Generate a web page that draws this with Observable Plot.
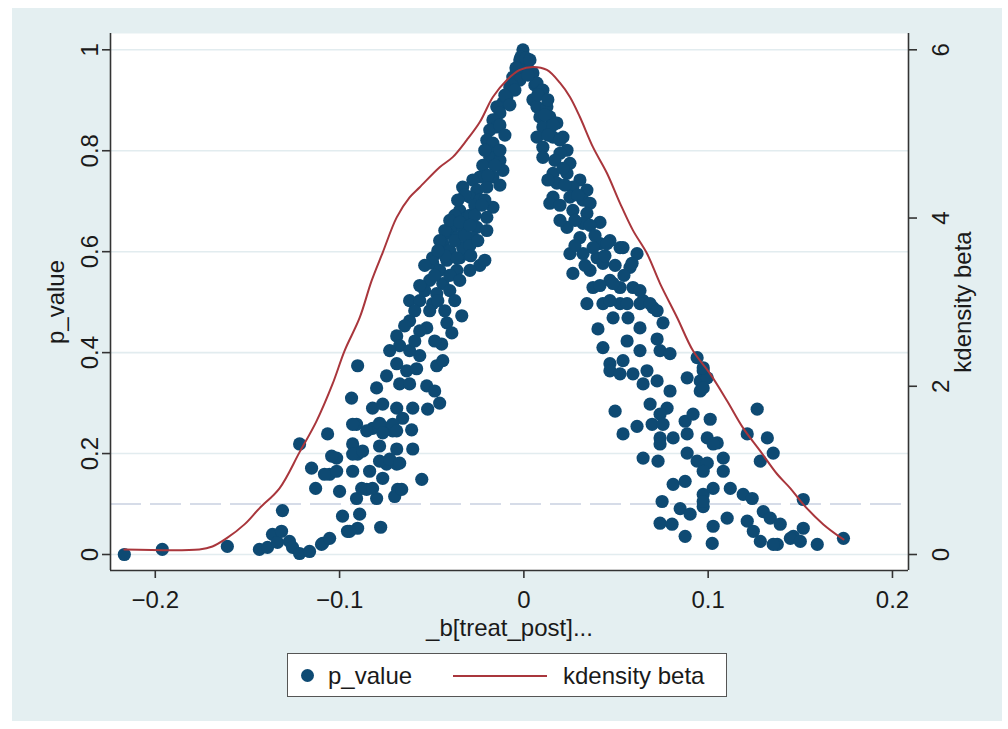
<!DOCTYPE html>
<html>
<head>
<meta charset="utf-8">
<script src="https://cdn.jsdelivr.net/npm/d3@7"></script>
<script src="https://cdn.jsdelivr.net/npm/@observablehq/plot@0.6"></script>
<style>
  body { margin:0; background:#ffffff; width:1008px; height:729px; position:relative; overflow:hidden;
         font-family:"Liberation Sans", Arial, sans-serif; color:#1a1a1a; }
  #bg { position:absolute; left:12px; top:8px; width:990px; height:713px; background:#E4EFF1; }
  #chart { position:absolute; left:0; top:0; }
  #legend { position:absolute; left:287px; top:653px; width:438px; height:42px; border:1px solid #555; background:#fff; }
  #legend .t { position:absolute; font-size:24px; line-height:24px; top:10px; white-space:nowrap; }
  #legend .dot { position:absolute; left:13px; top:15px; width:13px; height:13px; border-radius:50%; background:#0E4A73; }
  #legend .ln { position:absolute; left:165px; top:21px; width:94px; height:2px; background:#A9363C; }
</style>
</head>
<body>
<div id="bg"></div>
<div id="chart"></div>
<div id="legend">
  <div class="dot"></div><div class="t" style="left:40px">p_value</div>
  <div class="ln"></div><div class="t" style="left:275px">kdensity beta</div>
</div>
<script>
// ---- axis ticks ----
const xTicks = [-0.2, -0.1, 0, 0.1, 0.2];
const pTicks = [0, 0.2, 0.4, 0.6, 0.8, 1];
const densityTicks = [0, 2, 4, 6];
const densityAxisMax = 6;          // right axis top aligns with p_value = 1
const xDomain = [-0.2243, 0.2087];
const yDomain = [-0.0317, 1.0323];
const threshold = [0.1];

// ---- scatter: [beta, p_value] ----
const leftTail = [
[-0.2168,0.000],[-0.1962,0.010],[-0.1609,0.016],[-0.1435,0.010],[-0.1391,0.014],[-0.1364,0.040],
[-0.1337,0.024],[-0.1315,0.046],[-0.1310,0.087],[-0.1272,0.026],[-0.1255,0.014],[-0.1217,0.002],
[-0.1163,0.006],[-0.1092,0.022],[-0.1098,0.020],[-0.1054,0.032]
];
const leftArm = [
[-0.1217,0.219],[-0.1065,0.239],[-0.1152,0.171],[-0.1130,0.131],[-0.0984,0.076],[-0.0891,0.080],
[-0.0957,0.046],[-0.0902,0.052],[-0.0777,0.054],[-0.1016,0.191],[-0.1054,0.159],[-0.0929,0.165],
[-0.0837,0.165],[-0.0902,0.199],[-0.0783,0.215],[-0.0690,0.209],[-0.0603,0.209],[-0.0609,0.247],
[-0.0554,0.149],[-0.0685,0.129],[-0.0701,0.115],[-0.0799,0.111],[-0.0908,0.111],[-0.0853,0.129],
[-0.1000,0.125],[-0.0766,0.151],[-0.0745,0.179],[-0.0690,0.179],[-0.0929,0.219],[-0.0908,0.258],
[-0.0821,0.250],[-0.0745,0.250],[-0.0712,0.245],
[-0.0495,0.577],[-0.0418,0.583],[-0.0348,0.588],[-0.0310,0.596],[-0.0239,0.573],[-0.0364,0.563],
[-0.0440,0.537],[-0.0473,0.517],[-0.0620,0.503],[-0.0565,0.503],[-0.0495,0.497],[-0.0337,0.473],
[-0.0620,0.463],[-0.0527,0.449],[-0.0418,0.459],[-0.0391,0.439],[-0.0690,0.433],[-0.0674,0.414],
[-0.0446,0.417],[-0.0565,0.394],[-0.0620,0.404],[-0.0473,0.374],[-0.0440,0.384],[-0.0902,0.374],
[-0.0690,0.378],[-0.0636,0.364],[-0.0582,0.368],[-0.0745,0.354],[-0.0799,0.330],[-0.0674,0.338],
[-0.0620,0.338],[-0.0527,0.334],[-0.0484,0.324],[-0.0457,0.300],[-0.0522,0.288],[-0.0935,0.310],
[-0.0821,0.290],[-0.0766,0.298],[-0.0690,0.290],[-0.0603,0.290],[-0.0658,0.270],[-0.0929,0.258],
[-0.0783,0.260],[-0.0712,0.258],[-0.0853,0.245],[-0.0766,0.241],[-0.0690,0.245],[-0.1043,0.195],
[-0.0929,0.199],[-0.0875,0.205],[-0.0783,0.185],[-0.0728,0.189],[-0.0674,0.181],[-0.1082,0.159],
[-0.1016,0.165],[-0.0880,0.131],[-0.0821,0.131],[-0.0663,0.129],[-0.0946,0.046]
];
const upperLeft = [
[-0.0005,1.000],[-0.0022,0.980],[0.0016,0.974],[-0.0038,0.960],[-0.0060,0.946],[-0.0022,0.940],
[-0.0076,0.926],[-0.0092,0.907],[-0.0114,0.895],[-0.0147,0.887],[-0.0130,0.875],[-0.0168,0.861],
[-0.0147,0.847],[-0.0185,0.841],[-0.0201,0.821],[-0.0168,0.815],[-0.0201,0.801],[-0.0147,0.795],
[-0.0185,0.787],[-0.0130,0.781],[-0.0114,0.761],[-0.0168,0.748],[-0.0239,0.748],[-0.0277,0.742],
[-0.0332,0.728],[-0.0255,0.722],[-0.0201,0.728],[-0.0293,0.708],[-0.0239,0.702],[-0.0168,0.688],
[-0.0348,0.682],[-0.0310,0.668],[-0.0201,0.668],[-0.0386,0.648],[-0.0332,0.648],[-0.0255,0.648],
[-0.0418,0.636],[-0.0364,0.628],[-0.0277,0.628],[-0.0201,0.642],[-0.0440,0.616],[-0.0402,0.602],
[-0.0332,0.608],[-0.0495,0.588],[-0.0364,0.588],
[-0.0457,0.563],[-0.0402,0.553],[-0.0429,0.592],[-0.0375,0.622],[-0.0321,0.632],[-0.0293,0.672],
[-0.0266,0.692],[-0.0375,0.672],[-0.0429,0.642],[-0.0511,0.543],[-0.0538,0.523],[-0.0467,0.503],
[-0.0212,0.583],
[-0.0016,0.986],[0.0011,0.984],[-0.0043,0.964],[0.0027,0.960],[-0.0065,0.930],[0.0060,0.930]
];
const leftBand = [
[-0.0049,0.920],[-0.0103,0.910],[-0.0076,0.891],[-0.0130,0.851],[-0.0103,0.831],[-0.0212,0.801],
[-0.0130,0.801],[-0.0223,0.771],[-0.0158,0.771],[-0.0196,0.751],[-0.0130,0.732],[-0.0321,0.712],
[-0.0212,0.702],[-0.0359,0.702],[-0.0266,0.672],[-0.0228,0.692],[-0.0402,0.662],[-0.0348,0.658],
[-0.0293,0.652],[-0.0457,0.622],[-0.0293,0.612],[-0.0250,0.622],[-0.0467,0.602],[-0.0288,0.592],
[-0.0538,0.573],[-0.0293,0.563],[-0.0484,0.553],[-0.0348,0.543],[-0.0565,0.533],[-0.0402,0.523],
[-0.0511,0.483],[-0.0592,0.483],[-0.0429,0.483],[-0.0375,0.503],[-0.0647,0.453],[-0.0565,0.443],
[-0.0484,0.423],[-0.0592,0.423],[-0.0728,0.404]
];
const rightArm = [
[0.0033,0.980],[0.0049,0.954],[0.0071,0.934],[0.0087,0.915],[0.0103,0.920],[0.0049,0.901],
[0.0071,0.887],[0.0125,0.887],[0.0087,0.867],[0.0141,0.867],[0.0103,0.847],[0.0179,0.855],
[0.0071,0.827],[0.0158,0.827],[0.0212,0.827],[0.0103,0.807],[0.0234,0.801],[0.0103,0.787],
[0.0196,0.795],[0.0250,0.775],[0.0158,0.755],[0.0234,0.755],[0.0304,0.742],[0.0179,0.736],
[0.0266,0.728],[0.0342,0.722],[0.0158,0.708],[0.0250,0.708],[0.0321,0.702],[0.0141,0.696],
[0.0359,0.696],[0.0266,0.682],[0.0342,0.676],[0.0413,0.658],[0.0234,0.648],[0.0321,0.656],
[0.0304,0.628],[0.0413,0.616],[0.0467,0.622],[0.0250,0.596],[0.0321,0.596],[0.0397,0.588],
[0.0522,0.608],[0.0614,0.596],[0.0266,0.557],[0.0359,0.563],[0.0429,0.577],[0.0576,0.569],
[0.0375,0.529],[0.0467,0.543],[0.0522,0.529],[0.0592,0.529],[0.0342,0.497],[0.0429,0.497],
[0.0522,0.497],[0.0647,0.503],[0.0701,0.489]
];
const rightBand = [
[0.0022,0.950],[0.0076,0.911],[0.0130,0.901],[0.0114,0.871],[0.0158,0.851],[0.0130,0.831],
[0.0196,0.821],[0.0168,0.781],[0.0212,0.765],[0.0130,0.742],[0.0223,0.732],[0.0293,0.712],
[0.0196,0.692],[0.0277,0.662],[0.0359,0.652],[0.0196,0.662],[0.0386,0.632],[0.0277,0.612],
[0.0440,0.592],[0.0332,0.573],[0.0495,0.573],[0.0413,0.533],[0.0543,0.553],[0.0467,0.503],
[0.0630,0.523]
];
const rightLower = [
[0.0375,0.608],[0.0451,0.616],[0.0538,0.608],[0.0587,0.577],[0.0484,0.537],[0.0484,0.469],
[0.0560,0.497],[0.0630,0.497],[0.0685,0.497],[0.0723,0.483],[0.0565,0.469],[0.0630,0.449],
[0.0755,0.459],[0.0402,0.447],[0.0723,0.427],[0.0429,0.410],[0.0560,0.423],[0.0630,0.404],
[0.0739,0.404],[0.0793,0.398],[0.0467,0.378],[0.0538,0.384],[0.0467,0.364],[0.0522,0.358],
[0.0592,0.358],[0.0668,0.364],[0.0940,0.390],[0.0973,0.364],[0.0886,0.350],[0.0957,0.344],
[0.0957,0.324],[0.0647,0.338],[0.0723,0.344],[0.0793,0.324],[0.0685,0.298],[0.0777,0.290],
[0.0739,0.278],[0.0495,0.284],[0.1266,0.288],[0.0614,0.254],[0.0696,0.258],[0.0755,0.258],
[0.0875,0.264],[0.0918,0.278],[0.1011,0.268],[0.0538,0.239],[0.0739,0.231],[0.0810,0.231],
[0.0886,0.239],[0.0995,0.231],[0.1049,0.221],[0.1212,0.239],[0.1321,0.231],[0.0647,0.191],
[0.0728,0.185],[0.0739,0.219],[0.0886,0.201],[0.0940,0.185],[0.0995,0.181],[0.0973,0.165],
[0.1082,0.191],[0.1082,0.165],[0.1283,0.185],[0.1353,0.201],[0.0810,0.139],[0.0875,0.145],
[0.0973,0.119],[0.1027,0.131],[0.1120,0.131],[0.1190,0.119],[0.1239,0.111],[0.0750,0.105],
[0.0848,0.091],[0.0902,0.080],[0.0973,0.095],[0.0739,0.062],[0.0804,0.060],[0.0875,0.036],
[0.1027,0.056],[0.1022,0.022],[0.1103,0.072],[0.1212,0.066],[0.1245,0.046],[0.1283,0.026],
[0.1299,0.085],[0.1337,0.072],[0.1375,0.020],[0.1391,0.060],[0.1462,0.036],
[0.1516,0.109],[0.1516,0.052],[0.1446,0.032],[0.1500,0.026],[0.1592,0.020],[0.1734,0.032],
[0.1353,0.020],[0.1027,0.219],[0.0973,0.105],[0.0995,0.350],[0.0973,0.370],[0.0973,0.330]
];

// ---- kernel density of beta ----
const kdX = [-0.2168,-0.1761,-0.1690,-0.1614,-0.1516,-0.1435,-0.1326,-0.1217,-0.1125,-0.1038,
  -0.0973,-0.0891,-0.0826,-0.0766,-0.0690,-0.0620,-0.0565,-0.0457,-0.0386,-0.0310,-0.0239,-0.0168,
  -0.0092,-0.0022,0.0049,0.0125,0.0196,0.0250,0.0304,0.0375,0.0451,0.0522,0.0592,0.0668,0.0739,
  0.0832,0.0918,0.1011,0.1103,0.1190,0.1283,0.1375,0.1446,0.1516,0.1625,0.1734];
const kdDensity = [0.060,0.060,0.095,0.191,0.358,0.549,0.787,1.217,1.586,2.028,
  2.421,2.815,3.256,3.590,4.008,4.246,4.366,4.604,4.724,4.926,5.141,5.439,
  5.642,5.761,5.797,5.761,5.606,5.439,5.201,4.843,4.533,4.175,3.853,3.578,3.221,
  2.815,2.421,2.147,1.825,1.503,1.229,0.954,0.787,0.596,0.358,0.179];

// ---- build tables ----
const points = [...leftTail, ...leftArm, ...upperLeft, ...leftBand, ...rightArm, ...rightBand, ...rightLower]
  .map(([beta, p]) => ({beta, p}));
const kd = kdX.map((x, i) => ({x, y: kdDensity[i] / densityAxisMax}));

const fmt = d3.format("~g");
const navy = "#0E4A73", maroon = "#A9363C", axisColor = "#333";

const chart = Plot.plot({
  width: 1008, height: 640,
  marginLeft: 110, marginRight: 100, marginTop: 33, marginBottom: 70,
  x: {domain: xDomain},
  y: {domain: yDomain},
  style: {background: "transparent", fontFamily: "'Liberation Sans', Arial, sans-serif",
          fontSize: "24px", color: "#1a1a1a", overflow: "visible"},
  marks: [
    Plot.frame({fill: "white", stroke: "none"}),
    Plot.ruleY(pTicks, {stroke: "#E2ECEF", strokeWidth: 1.6}),
    Plot.ruleY(threshold, {stroke: "#D6DCE8", strokeWidth: 2, strokeDasharray: "31,9"}),
    Plot.dot(points, {x: "beta", y: "p", r: 6.6, fill: navy, stroke: "none"}),
    Plot.line(kd, {x: "x", y: "y", stroke: maroon, strokeWidth: 2, curve: "catmull-rom"}),
    Plot.ruleX([xDomain[0]], {stroke: axisColor, strokeWidth: 1.6}),
    Plot.ruleX([xDomain[1]], {stroke: axisColor, strokeWidth: 1.6}),
    Plot.ruleY([yDomain[0]], {stroke: axisColor, strokeWidth: 1.6}),
    Plot.axisX({ticks: xTicks, tickFormat: fmt, tickSize: 8, tickPadding: 12, label: null,
                stroke: axisColor, strokeWidth: 1.6}),
    Plot.axisY({anchor: "left", ticks: pTicks, tickFormat: fmt, tickSize: 8, tickPadding: 5,
                tickRotate: -90, textAnchor: "middle", lineAnchor: "bottom", label: null,
                stroke: axisColor, strokeWidth: 1.6}),
    Plot.axisY({anchor: "right", ticks: densityTicks.map(d => d / densityAxisMax),
                tickFormat: d => fmt(Math.round(d * densityAxisMax)), tickSize: 8, tickPadding: 32,
                tickRotate: -90, textAnchor: "middle", lineAnchor: "bottom", label: null,
                stroke: axisColor, strokeWidth: 1.6}),
    Plot.text(["_b[treat_post]..."], {text: d => d, frameAnchor: "bottom", dy: 48, lineAnchor: "top",
                fontSize: 24}),
    Plot.text(["p_value"], {text: d => d, frameAnchor: "left", dx: -47, rotate: -90,
                textAnchor: "middle", lineAnchor: "bottom", fontSize: 24}),
    Plot.text(["kdensity beta"], {text: d => d, frameAnchor: "right", dx: 62, rotate: -90,
                textAnchor: "middle", lineAnchor: "bottom", fontSize: 24})
  ]
});
document.getElementById("chart").appendChild(chart);
</script>
</body>
</html>
